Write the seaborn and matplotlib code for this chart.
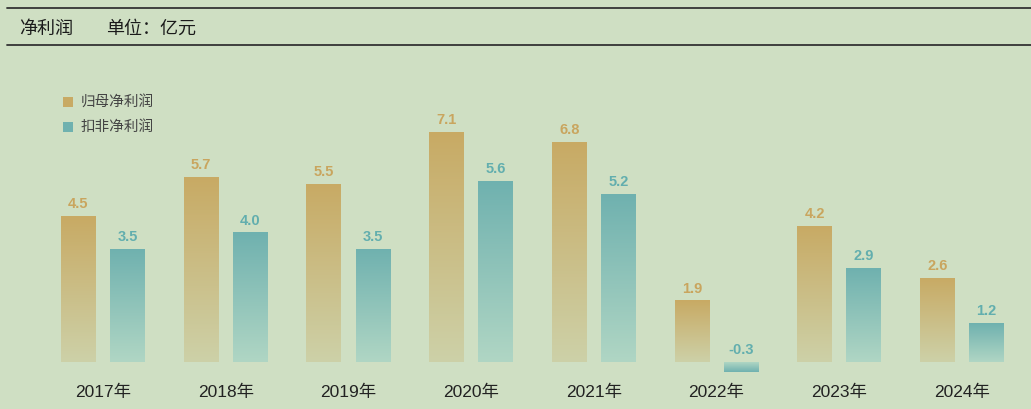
import numpy as np
import pandas as pd
import matplotlib
matplotlib.use('Agg')
import matplotlib.pyplot as plt
import seaborn as sns
from matplotlib.patches import Rectangle
from matplotlib.lines import Line2D
from matplotlib.colors import to_rgb

# Data
years = ['2017年', '2018年', '2019年', '2020年', '2021年', '2022年', '2023年', '2024年']
net_profit = [4.5, 5.7, 5.5, 7.1, 6.8, 1.9, 4.2, 2.6]       # 归母净利润
deducted_profit = [3.5, 4.0, 3.5, 5.6, 5.2, -0.3, 2.9, 1.2]  # 扣非净利润
series = ['归母净利润', '扣非净利润']

bg = '#cfdfc3'
gold_top, gold_bot = '#c8aa64', '#cdd1a8'
teal_top, teal_bot = '#6fb1af', '#b0d6c4'
label_colors = ['#c9a55e', '#62aeae']

df = pd.DataFrame({
    'year': years * 2,
    'value': net_profit + deducted_profit,
    'type': [series[0]] * len(years) + [series[1]] * len(years),
})

sns.set_theme(style='white')
plt.rcParams['font.family'] = ['Liberation Sans', 'Noto Sans CJK SC', 'DejaVu Sans']

W, H = 1031, 409
step = 122.7  # px between year groups
fig = plt.figure(figsize=(W / 100, H / 100), dpi=100, facecolor=bg)
# axes placed so x centres sit at 103 + step*i, baseline at y=362 px, 32.4 px per unit
ax = fig.add_axes([(103 - step / 2) / W, (47 - 32.4) / H, 8 * step / W, 9 * 32.4 / H])
ax.set_facecolor(bg)

sns.barplot(data=df, x='year', y='value', hue='type', palette=[gold_top, teal_top],
            width=0.8, gap=0.29, legend=False, ax=ax)
ax.set_xlim(-0.5, 7.5)
ax.set_ylim(-1, 8)


def gradient(c1, c2, n=256):
    a, b = np.array(to_rgb(c1)), np.array(to_rgb(c2))
    t = np.linspace(0, 1, n)[:, None]
    return (a * (1 - t) + b * t)[:, None, :]


grads = [(gold_top, gold_bot), (teal_top, teal_bot)]
for k, cont in enumerate(ax.containers):
    c1, c2 = grads[k]
    for p in cont.patches:
        x0, w = p.get_x(), p.get_width()
        y0, h = p.get_y(), p.get_height()
        lo, hi = min(y0, y0 + h), max(y0, y0 + h)
        img = gradient(c1, c2) if h >= 0 else gradient(c2, c1)
        im = ax.imshow(img, extent=(x0, x0 + w, lo, hi), aspect='auto',
                       origin='upper', zorder=2, interpolation='bilinear')
        im.set_clip_path(p)
        p.set_facecolor('none')
        p.set_edgecolor('none')
        ax.annotate(f'{h:.1f}', (x0 + w / 2, max(h, 0)),
                    xytext=(0, 3.5), textcoords='offset points', ha='center', va='bottom',
                    fontsize=10.5, fontweight='bold', color=label_colors[k], zorder=3)

sns.despine(ax=ax, left=True, bottom=True)
ax.set_yticks([])
ax.set_xlabel('')
ax.set_ylabel('')
ax.set_xticks(range(len(years)))
ax.set_xticklabels(years, va='center')
ax.tick_params(axis='x', length=0, labelsize=12.5, labelcolor='#222222', pad=-1.5)

# header lines and title
fig.add_artist(Line2D([7 / W, 1], [1 - 8 / H] * 2, color='#333333', lw=1.3))
fig.add_artist(Line2D([7 / W, 1], [1 - 45 / H] * 2, color='#333333', lw=1.3))
cjk = ['Noto Sans CJK SC', 'DejaVu Sans']
fig.text(19 / W, 1 - 29 / H, '净利润', fontsize=13, color='#1a1a1a',
         va='center', ha='left', family=cjk)
fig.text(106 / W, 1 - 29 / H, '单位：亿元', fontsize=13, color='#1a1a1a',
         va='center', ha='left', family=cjk)

# legend
for i, (name, col) in enumerate(zip(series, [gold_top, teal_top])):
    yc = 102 + 25 * i
    fig.add_artist(Rectangle((63 / W, 1 - (yc + 5) / H), 10 / W, 10 / H,
                             facecolor=col, edgecolor='none', transform=fig.transFigure))
    fig.text(81 / W, 1 - yc / H, name, fontsize=10.5, color='#444444',
             va='center', ha='left', family=cjk)

fig.savefig('out.png', dpi=100, facecolor=bg)
